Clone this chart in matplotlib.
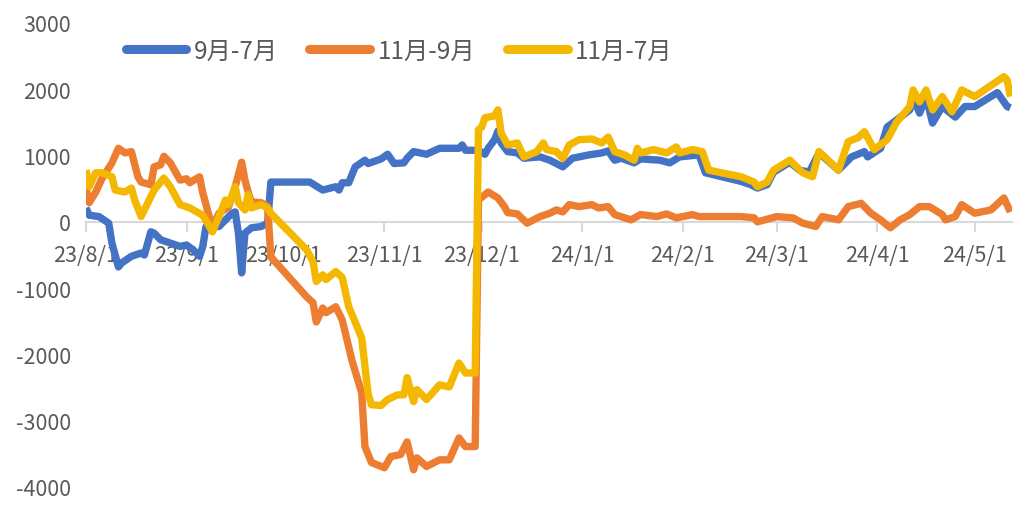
import pandas as pd
import matplotlib.pyplot as plt
import matplotlib.dates as mdates
from matplotlib.ticker import FuncFormatter

plt.rcParams['font.family'] = ['Noto Sans CJK SC', 'DejaVu Sans']
plt.rcParams['axes.unicode_minus'] = False

# 9月-7月
blue_dates = ["2023-08-01", "2023-08-02", "2023-08-05", "2023-08-08", "2023-08-09", "2023-08-11", "2023-08-12",
              "2023-08-15", "2023-08-18", "2023-08-19", "2023-08-21", "2023-08-22", "2023-08-24", "2023-08-27",
              "2023-08-30", "2023-09-01", "2023-09-03", "2023-09-05", "2023-09-06", "2023-09-07", "2023-09-09",
              "2023-09-11", "2023-09-13", "2023-09-15", "2023-09-16", "2023-09-17", "2023-09-18", "2023-09-19",
              "2023-09-21", "2023-09-24", "2023-09-26", "2023-09-27", "2023-10-09", "2023-10-13", "2023-10-17",
              "2023-10-18", "2023-10-19", "2023-10-21", "2023-10-23", "2023-10-26", "2023-10-27", "2023-10-31",
              "2023-11-02", "2023-11-04", "2023-11-07", "2023-11-08", "2023-11-10", "2023-11-14", "2023-11-18",
              "2023-11-24", "2023-11-25", "2023-11-26", "2023-11-30", "2023-12-02", "2023-12-03", "2023-12-05",
              "2023-12-06", "2023-12-07", "2023-12-09", "2023-12-12", "2023-12-14", "2023-12-19", "2023-12-22",
              "2023-12-26", "2023-12-29", "2024-01-03", "2024-01-07", "2024-01-09", "2024-01-11", "2024-01-13",
              "2024-01-17", "2024-01-19", "2024-01-25", "2024-01-28", "2024-01-31", "2024-02-06", "2024-02-08",
              "2024-02-19", "2024-02-22", "2024-02-24", "2024-02-27", "2024-02-29", "2024-03-05", "2024-03-08",
              "2024-03-11", "2024-03-14", "2024-03-20", "2024-03-24", "2024-03-28", "2024-03-29", "2024-04-02",
              "2024-04-04", "2024-04-07", "2024-04-11", "2024-04-12", "2024-04-14", "2024-04-16", "2024-04-18",
              "2024-04-21", "2024-04-25", "2024-04-28", "2024-05-01", "2024-05-08", "2024-05-11", "2024-05-12"]
blue_vals = [210, 100, 80, -20, -320, -680, -620,
             -520, -470, -500, -150, -170, -270, -320,
             -370, -350, -420, -520, -370, -70, -70,
             -70, 30, 130, 150, -170, -770, -170,
             -90, -70, -20, 600, 600, 480, 530,
             480, 590, 590, 830, 930, 880, 950,
             1020, 880, 890, 960, 1060, 1020, 1110,
             1110, 1160, 1080, 1080, 1020, 1110, 1240,
             1370, 1190, 1060, 1040, 960, 980, 930,
             830, 960, 1010, 1040, 1070, 930, 960,
             890, 950, 930, 890, 980, 1010, 740,
             610, 560, 510, 560, 750, 900, 780,
             750, 1040, 780, 980, 1060, 980, 1110,
             1430, 1540, 1690, 1890, 1640, 1890, 1490,
             1740, 1580, 1740, 1740, 1950, 1740, 1720]

# 11月-9月
orange_dates = ["2023-08-01", "2023-08-02", "2023-08-04", "2023-08-06", "2023-08-09", "2023-08-11", "2023-08-13",
                "2023-08-15", "2023-08-17", "2023-08-18", "2023-08-21", "2023-08-22", "2023-08-24", "2023-08-25",
                "2023-08-27", "2023-08-30", "2023-09-01", "2023-09-02", "2023-09-05", "2023-09-06", "2023-09-08",
                "2023-09-09", "2023-09-11", "2023-09-14", "2023-09-16", "2023-09-18", "2023-09-19", "2023-09-20",
                "2023-09-21", "2023-09-24", "2023-09-26", "2023-09-27", "2023-10-08", "2023-10-10", "2023-10-11",
                "2023-10-13", "2023-10-14", "2023-10-17", "2023-10-19", "2023-10-22", "2023-10-25", "2023-10-26",
                "2023-10-28", "2023-11-01", "2023-11-03", "2023-11-06", "2023-11-08", "2023-11-10", "2023-11-11",
                "2023-11-14", "2023-11-18", "2023-11-21", "2023-11-24", "2023-11-26", "2023-11-29", "2023-11-30",
                "2023-12-03", "2023-12-06", "2023-12-08", "2023-12-09", "2023-12-12", "2023-12-15", "2023-12-19",
                "2023-12-22", "2023-12-24", "2023-12-26", "2023-12-28", "2023-12-31", "2024-01-04", "2024-01-06",
                "2024-01-09", "2024-01-11", "2024-01-16", "2024-01-19", "2024-01-24", "2024-01-27", "2024-01-30",
                "2024-02-04", "2024-02-06", "2024-02-19", "2024-02-23", "2024-02-24", "2024-03-01", "2024-03-06",
                "2024-03-09", "2024-03-13", "2024-03-15", "2024-03-20", "2024-03-23", "2024-03-27", "2024-03-30",
                "2024-04-02", "2024-04-05", "2024-04-08", "2024-04-11", "2024-04-14", "2024-04-17", "2024-04-21",
                "2024-04-22", "2024-04-25", "2024-04-27", "2024-05-01", "2024-05-06", "2024-05-10", "2024-05-12"]
orange_vals = [510, 290, 450, 660, 890, 1110, 1040,
               1060, 680, 600, 560, 830, 860, 990,
               890, 630, 650, 590, 680, 440, 80,
               -70, 130, 230, 530, 900, 630, 450,
               300, 290, 230, -530, -1130, -1220, -1510,
               -1300, -1370, -1280, -1480, -2090, -2580, -3390,
               -3630, -3710, -3540, -3510, -3320, -3740, -3560,
               -3690, -3590, -3590, -3260, -3390, -3390, 330,
               450, 360, 230, 140, 120, -20, 80,
               130, 180, 150, 260, 230, 260, 210,
               230, 110, 30, 110, 80, 120, 60,
               110, 80, 80, 60, 0, 80, 60,
               -20, -70, 80, 30, 230, 280, 130,
               30, -90, 30, 110, 230, 230, 110,
               30, 80, 260, 130, 180, 360, 150]

# 11月-7月
yellow_dates = ["2023-08-01", "2023-08-02", "2023-08-04", "2023-08-06", "2023-08-09", "2023-08-10", "2023-08-13",
                "2023-08-15", "2023-08-16", "2023-08-18", "2023-08-21", "2023-08-22", "2023-08-25", "2023-08-27",
                "2023-08-30", "2023-09-02", "2023-09-06", "2023-09-09", "2023-09-11", "2023-09-13", "2023-09-14",
                "2023-09-16", "2023-09-17", "2023-09-19", "2023-09-20", "2023-09-21", "2023-09-24", "2023-09-26",
                "2023-09-27", "2023-10-08", "2023-10-10", "2023-10-11", "2023-10-13", "2023-10-14", "2023-10-17",
                "2023-10-19", "2023-10-21", "2023-10-25", "2023-10-27", "2023-10-28", "2023-10-31", "2023-11-02",
                "2023-11-05", "2023-11-07", "2023-11-08", "2023-11-10", "2023-11-11", "2023-11-14", "2023-11-18",
                "2023-11-21", "2023-11-24", "2023-11-26", "2023-11-29", "2023-11-30", "2023-12-01", "2023-12-02",
                "2023-12-05", "2023-12-06", "2023-12-07", "2023-12-09", "2023-12-12", "2023-12-14", "2023-12-18",
                "2023-12-20", "2023-12-21", "2023-12-24", "2023-12-26", "2023-12-28", "2023-12-31", "2024-01-04",
                "2024-01-07", "2024-01-09", "2024-01-11", "2024-01-14", "2024-01-17", "2024-01-18", "2024-01-19",
                "2024-01-23", "2024-01-27", "2024-01-30", "2024-01-31", "2024-02-04", "2024-02-07", "2024-02-09",
                "2024-02-19", "2024-02-23", "2024-02-24", "2024-02-27", "2024-02-29", "2024-03-05", "2024-03-09",
                "2024-03-12", "2024-03-14", "2024-03-20", "2024-03-23", "2024-03-26", "2024-03-28", "2024-03-31",
                "2024-04-04", "2024-04-07", "2024-04-11", "2024-04-12", "2024-04-14", "2024-04-16", "2024-04-18",
                "2024-04-21", "2024-04-24", "2024-04-27", "2024-05-01", "2024-05-10", "2024-05-11", "2024-05-12"]
yellow_vals = [780, 530, 740, 740, 680, 480, 450,
               510, 330, 80, 380, 480, 660, 530,
               260, 210, 100, -150, 80, 330, 260,
               530, 290, 180, 410, 210, 260, 210,
               130, -420, -600, -900, -800, -870, -750,
               -840, -1280, -1750, -2600, -2760, -2770, -2680,
               -2610, -2610, -2350, -2710, -2530, -2680, -2460,
               -2490, -2130, -2280, -2280, 1390, 1430, 1570,
               1600, 1690, 1340, 1160, 1190, 980, 1060,
               1190, 1090, 1060, 960, 1160, 1240, 1250,
               1190, 1280, 1060, 1010, 930, 1110, 1040,
               1090, 1040, 1130, 1040, 1090, 1060, 780,
               680, 600, 530, 600, 780, 930, 740,
               680, 1060, 780, 1210, 1270, 1360, 1090,
               1240, 1510, 1740, 1990, 1810, 1990, 1690,
               1890, 1660, 1990, 1890, 2190, 2140, 1890]

series = [
    (blue_dates, blue_vals, "9月-7月", "#4472C4"),
    (orange_dates, orange_vals, "11月-9月", "#ED7D31"),
    (yellow_dates, yellow_vals, "11月-7月", "#F5B800"),
]

fig = plt.figure(figsize=(10.26, 5.06), dpi=100)
ax = fig.add_axes([86 / 1026, 18 / 506, 926 / 1026, 464 / 506])

for dates, vals, label, color in series:
    ax.plot(pd.to_datetime(dates), vals, color=color, lw=5.3, label=label,
            solid_joinstyle="round", solid_capstyle="butt")

ax.set_ylim(-4000, 3000)
ax.set_yticks(range(-4000, 3001, 1000))
ax.set_xlim(pd.Timestamp("2023-08-01"), pd.Timestamp("2024-05-12 12:00"))
ax.xaxis.set_major_locator(mdates.MonthLocator())
ax.xaxis.set_major_formatter(FuncFormatter(
    lambda v, p: "{}/{}/{}".format(mdates.num2date(v).year % 100, mdates.num2date(v).month, mdates.num2date(v).day)))

for s in ["left", "top", "right"]:
    ax.spines[s].set_visible(False)
ax.spines["bottom"].set_position(("data", 0))
ax.spines["bottom"].set_color("#d9d9d9")
ax.spines["bottom"].set_linewidth(1.5)
ax.spines["bottom"].set_zorder(0)

ax.tick_params(axis="x", direction="out", length=7, width=1.5, color="#d9d9d9",
               labelcolor="#595959", labelsize=15.5, pad=9)
ax.tick_params(axis="y", length=0, labelcolor="#595959", labelsize=15.5, pad=11)

leg = fig.legend(loc="center", bbox_to_anchor=(399 / 1026, 1 - 52 / 506), ncol=3, frameon=False,
                 fontsize=17.5, handlelength=2.5, handletextpad=0.3, columnspacing=1.3, labelcolor="#595959")
for h in leg.get_lines():
    h.set_linewidth(6.5)
    h.set_solid_capstyle("round")

fig.savefig("out.png", dpi=100, facecolor="white")
